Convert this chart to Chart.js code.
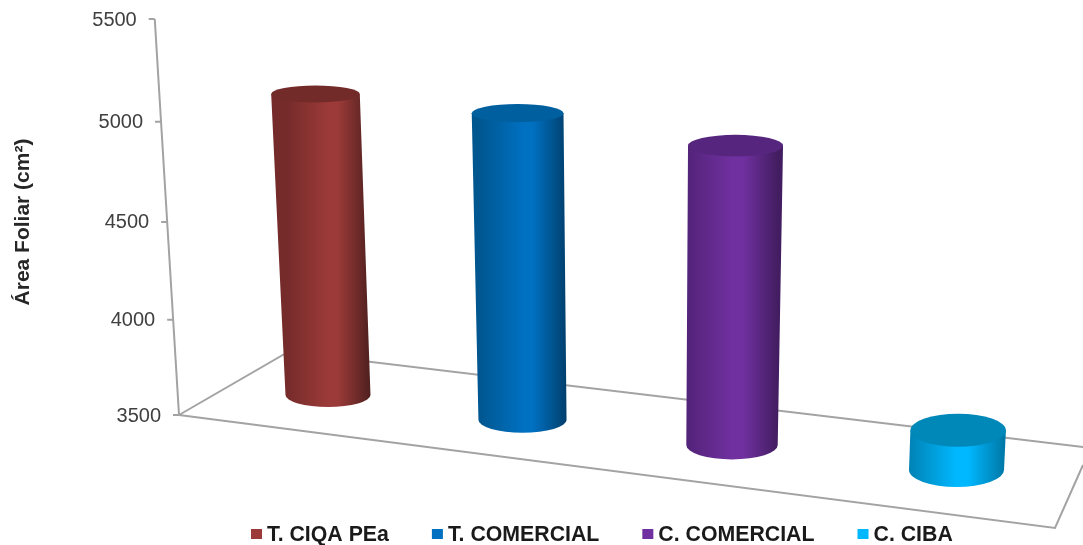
<!DOCTYPE html>
<html>
<head>
<meta charset="utf-8">
<script src="https://cdn.jsdelivr.net/npm/chart.js@4/dist/chart.umd.min.js"></script>
<style>
    html, body { margin: 0; padding: 0; background: #fff; overflow: hidden; }
</style>
</head>
<body>
<canvas id="foliar-area" width="1083" height="545"></canvas>
<script>
const categories = ["T. CIQA PEa", "T. COMERCIAL", "C. COMERCIAL", "C. CIBA"];
const areaValues = [5090, 5065, 4975, 3695];
const yTicks = [3500, 4000, 4500, 5000, 5500];
const axisTitle = "Área Foliar (cm²)";

const bodyColors = ["#9b3a38", "#0070c0", "#7030a0", "#00b8ff"];
const leftColors = ["#742b2a", "#00568f", "#522378", "#0082b4"];
const rightColors = ["#4e201f", "#003f6d", "#431d61", "#0079a8"];
const topColors = ["#732b2a", "#005f9f", "#56267f", "#0088b8"];

const lineColor = "#a3a3a3";
const labelFont = '20px "Liberation Sans"';
const boldFont = 'bold 21.3px "Liberation Sans"';

// the camera: vertical lines lean away from x = 643, heights bow a little
const lean = (x, h) => h * 1.32e-4 * (x - 643);
const bow = (h, full) => h - 1.27e-4 * h * (full - h);

// category position on the plot -> centre of the cylinder foot on the floor
const floorX = (x) => x + 1.564e-4 * (x - 755.6) ** 2 + 5.37;
const floorY = (bx) => {
    const d = bx - 328.5;
    return 395 + 0.1326 * d - 2.1e-5 * d * d;
};

const radiusX = (bx) => 42.5 + (bx - 328.5) * 0.00796;
const radiusY = (x, y) => 8.5 + 0.0116 * (y - 93) + 1e-5 * (x - 316) ** 2;

const drawWalls = {
    id: "drawWalls",
    beforeDatasetsDraw(chart) {
        const { ctx, scales, chartArea } = chart;
        const y = scales.y;
        const full = y.bottom - y.top;
        const cornerX = chartArea.left;
        const cornerY = chartArea.bottom;
        const wallPoint = (value) => {
            const h = bow(y.bottom - y.getPixelForValue(value), full);
            return { x: cornerX + lean(cornerX, h), y: cornerY - h };
        };

        ctx.save();
        ctx.strokeStyle = lineColor;
        ctx.lineWidth = 2;

        // floor
        ctx.beginPath();
        ctx.moveTo(cornerX, cornerY);
        ctx.lineTo(288, 352);
        ctx.lineTo(1100, 449);
        ctx.moveTo(cornerX, cornerY);
        ctx.lineTo(chartArea.right, 528);
        ctx.lineTo(1083, 465);
        ctx.stroke();

        // value axis, it leans with the camera
        const bottom = wallPoint(yTicks[0]);
        const top = wallPoint(yTicks[yTicks.length - 1]);
        ctx.beginPath();
        ctx.moveTo(bottom.x, bottom.y);
        ctx.lineTo(top.x, top.y);
        y.ticks.forEach((tick) => {
            const p = wallPoint(tick.value);
            ctx.moveTo(p.x, p.y);
            ctx.lineTo(p.x - 6, p.y);
        });
        ctx.stroke();

        ctx.fillStyle = "#404040";
        ctx.font = labelFont;
        ctx.textAlign = "right";
        ctx.textBaseline = "middle";
        y.ticks.forEach((tick) => {
            const p = wallPoint(tick.value);
            ctx.fillText(tick.value, p.x - 18, p.y + 1);
        });

        ctx.fillStyle = "#262626";
        ctx.font = 'bold 21px "Liberation Sans"';
        ctx.textAlign = "center";
        ctx.translate(23, 222);
        ctx.rotate(-Math.PI / 2);
        ctx.fillText(axisTitle, 0, 0);
        ctx.restore();
    },
};

const drawCylinders = {
    id: "drawCylinders",
    afterDatasetsDraw(chart) {
        const { ctx, scales } = chart;
        const y = scales.y;
        const full = y.bottom - y.top;

        chart.getDatasetMeta(0).data.forEach((bar, i) => {
            const bx = floorX(bar.x);
            const by = floorY(bx);
            const rx = radiusX(bx);
            const h = bow(bar.base - bar.y, full) * (rx / 44);
            const tx = bx + lean(bx, h);
            const ty = by - h;
            const trx = rx + h * 0.006;
            const bry = radiusY(bx, by);
            const tAry = radiusY(tx, ty);

            const shade = ctx.createLinearGradient(bx - rx, 0, bx + rx, 0);
            shade.addColorStop(0, leftColors[i]);
            shade.addColorStop(0.5, bodyColors[i]);
            shade.addColorStop(0.62, bodyColors[i]);
            shade.addColorStop(1, rightColors[i]);

            ctx.save();
            ctx.fillStyle = shade;
            ctx.beginPath();
            ctx.moveTo(tx - trx, ty);
            ctx.lineTo(bx - rx, by);
            ctx.ellipse(bx, by, rx, bry, 0, Math.PI, 0, true);
            ctx.lineTo(tx + trx, ty);
            ctx.closePath();
            ctx.fill();

            ctx.fillStyle = topColors[i];
            ctx.beginPath();
            ctx.ellipse(tx, ty, trx, tAry, 0, 0, Math.PI * 2);
            ctx.fill();
            ctx.restore();
        });
    },
};

// legend spacing of the original is tighter than the built in one gives
const drawLegend = {
    id: "drawLegend",
    afterDraw(chart) {
        const { ctx } = chart;
        ctx.save();
        ctx.font = boldFont;
        ctx.textBaseline = "middle";
        let x = 251;
        categories.forEach((name, i) => {
            ctx.fillStyle = bodyColors[i];
            ctx.fillRect(x, 529, 11, 10);
            ctx.fillStyle = "#1a1a1a";
            ctx.fillText(name, x + 16, 535);
            x += 16 + ctx.measureText(name).width + 43;
        });
        ctx.restore();
    },
};

new Chart(document.getElementById("foliar-area"), {
    type: "bar",
    data: {
        labels: categories,
        datasets: [
            {
                label: axisTitle,
                data: areaValues,
                base: yTicks[0],
                backgroundColor: "rgba(0,0,0,0)",
            },
        ],
    },
    options: {
        responsive: false,
        animation: false,
        layout: {
            padding: { left: 179, right: 28, top: 19, bottom: 130 },
        },
        scales: {
            x: { display: false },
            y: {
                display: false,
                min: 3500,
                max: 5500,
                afterBuildTicks: (scale) => {
                    scale.ticks = yTicks.map((value) => ({ value }));
                },
            },
        },
        plugins: {
            legend: { display: false },
            tooltip: { enabled: false },
        },
    },
    plugins: [drawWalls, drawCylinders, drawLegend],
});
</script>
</body>
</html>
